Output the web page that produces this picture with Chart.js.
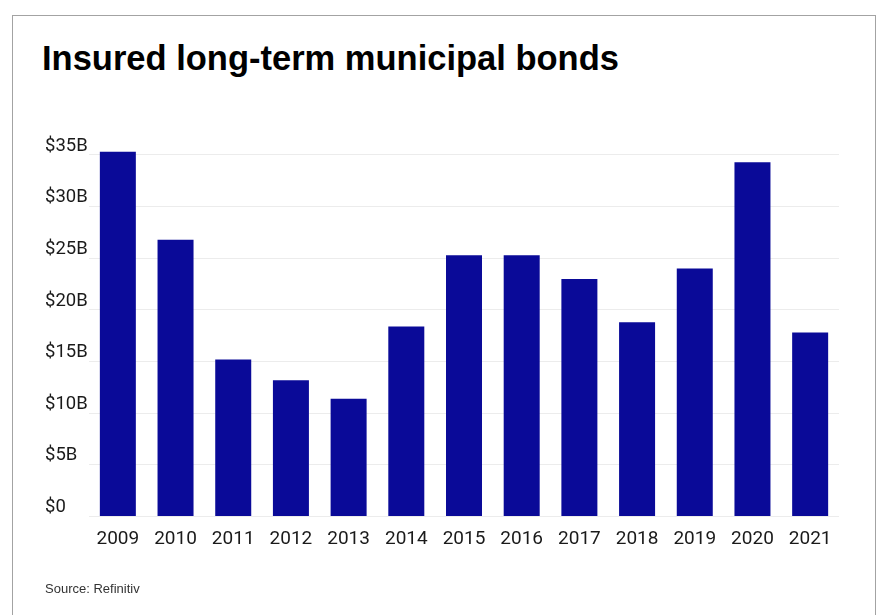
<html>

<head>
	<meta charset="UTF-8">
	<title>Insured long-term municipal bonds</title>
	<script src="https://cdn.jsdelivr.net/npm/chart.js@4"></script>
</head>
<style>
body{
	margin: 0;
	background: #fff;
	overflow: hidden;
}
.frame{
	position: absolute;
	left: 12px;
	top: 15px;
	width: 862px;
	height: 700px;
	border: 1px solid #a3a3a3;
}
.title{
	position: absolute;
	left: 42px;
	top: 41px;
	font: bold 34.5px "Liberation Sans", Arial, sans-serif;
	line-height: 34.5px;
	color: #000;
	white-space: nowrap;
}
.source{
	position: absolute;
	left: 45px;
	top: 582px;
	font: 13px "Liberation Sans", Arial, sans-serif;
	line-height: 13px;
	color: #333;
}
</style>
<body>
	<div class="frame"></div>
	<div class="title">Insured long-term municipal bonds</div>
	<div style="position:absolute;left:0;top:0;width:883px;height:615px;">
		<canvas id="myChart" width="883" height="615"></canvas>
	</div>
	<div class="source">Source: Refinitiv</div>

<script type="text/javascript">

var years = ["2009","2010","2011","2012","2013","2014","2015","2016","2017","2018","2019","2020","2021"];
// billions of dollars
var bonds = [35.3, 26.8, 15.2, 13.2, 11.4, 18.4, 25.3, 25.3, 23.0, 18.8, 24.0, 34.3, 17.8];
var yTicks = [0, 5, 10, 15, 20, 25, 30, 35];
var tickLabels = ["$0", "$5B", "$10B", "$15B", "$20B", "$25B", "$30B", "$35B"];

var ctx = document.getElementById("myChart");

var myBarChart = new Chart(ctx, {
	type: 'bar',
	data: {
		labels: years,
		datasets: [{
			data: bonds,
			backgroundColor: "#0a0a98",
			barPercentage: 0.624,
			categoryPercentage: 1
		}]
	},
	options: {
		responsive: false,
		animation: false,
		layout: {
			padding: {left: 45, right: 44, top: 144.6, bottom: 58.5}
		},
		plugins: {
			legend: {display: false},
			tooltip: {enabled: false}
		},
		scales: {
			x: {
				grid: {display: false, drawTicks: false},
				border: {display: false},
				ticks: {
					color: "#1a1a1a",
					padding: 11,
					font: {family: "Roboto", size: 19}
				},
				afterFit: function(scale){ scale.height = 40; }
			},
			y: {
				min: 0,
				max: 36,
				grid: {color: "#ececec", drawTicks: false},
				border: {display: false},
				afterBuildTicks: function(scale){
					scale.ticks = yTicks.map(function(v){ return {value: v}; });
				},
				ticks: {
					color: "#1a1a1a",
					crossAlign: "far",
					labelOffset: -9,
					padding: 0,
					font: {family: "Roboto", size: 18.5},
					callback: function(value){
						return tickLabels[yTicks.indexOf(value)];
					}
				},
				afterFit: function(scale){ scale.width = 44; }
			}
		}
	}
});

</script>

</body>

</html>
